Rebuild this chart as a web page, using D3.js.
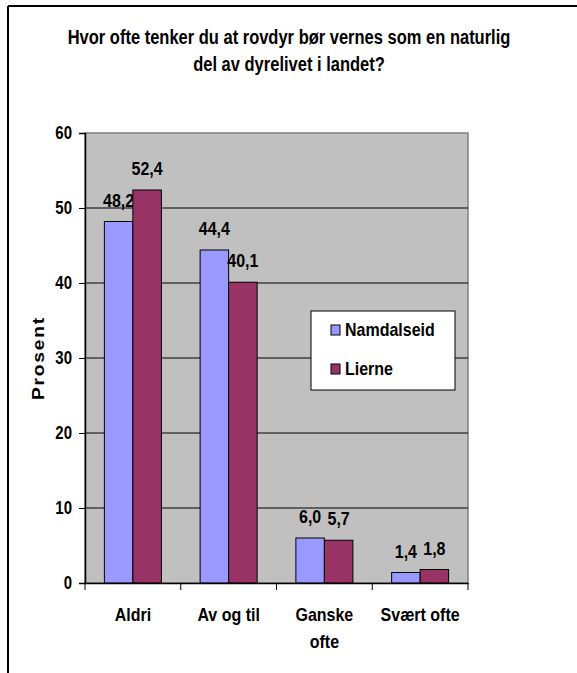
<!DOCTYPE html>
<html>
<head>
<meta charset="utf-8">
<script src="https://cdn.jsdelivr.net/npm/d3@7"></script>
<style>
  html, body { margin: 0; padding: 0; background: #fff; }
  svg { display: block; font-family: Arial, "Liberation Sans", sans-serif; font-weight: bold; }
</style>
</head>
<body>
<div id="chart"></div>
<script>
// data
const categories = ['Aldri', 'Av og til', 'Ganske ofte', 'Svært ofte'];
const seriesNames = ['Namdalseid', 'Lierne'];
const namdalseid = [48.2, 44.4, 6.0, 1.4];
const lierne = [52.4, 40.1, 5.7, 1.8];
const yTicks = [0, 10, 20, 30, 40, 50, 60];
const titleLines = ['Hvor ofte tenker du at rovdyr bør vernes som en naturlig', 'del av dyrelivet i landet?'];

const W = 577, H = 673;
const SY = 1.2; // picture is stretched a bit vertically, text too
const plot = { left: 85, right: 468, top: 133, bottom: 583 };
const colors = ['#9999FF', '#993366'];

const svg = d3.select('#chart').append('svg').attr('width', W).attr('height', H);

// helper: stretched text
function stext(g, x, y, str, size, anchor) {
  return g.append('text')
    .attr('transform', `translate(${x},${y}) scale(1,${SY})`)
    .attr('text-anchor', anchor || 'middle')
    .attr('font-size', size)
    .attr('fill', '#000')
    .text(str);
}

// outer frame (only left and top edges are visible)
svg.append('line').attr('x1', 8).attr('y1', 6).attr('x2', W).attr('y2', 6).attr('stroke', '#000').attr('stroke-width', 2);
svg.append('line').attr('x1', 8).attr('y1', 6).attr('x2', 8).attr('y2', H).attr('stroke', '#000').attr('stroke-width', 2);

// title
titleLines.forEach((t, i) => stext(svg, 289, 44 + i * 27, t, 16.5));

const x = d3.scaleBand().domain(categories).range([plot.left, plot.right]).paddingInner(0).paddingOuter(0);
const y = d3.scaleLinear().domain([0, 60]).range([plot.bottom, plot.top]);
const inner = d3.scaleBand().domain(seriesNames).range([0, x.bandwidth()]).paddingInner(0).paddingOuter(0.68);

// plot area
svg.append('rect')
  .attr('x', plot.left).attr('y', plot.top)
  .attr('width', plot.right - plot.left).attr('height', plot.bottom - plot.top)
  .attr('fill', '#C0C0C0').attr('stroke', '#808080').attr('stroke-width', 1.5);

// gridlines
svg.append('g').selectAll('line').data(yTicks.filter(d => d > 0 && d < 60)).join('line')
  .attr('x1', plot.left).attr('x2', plot.right)
  .attr('y1', d => y(d)).attr('y2', d => y(d))
  .attr('stroke', '#000').attr('stroke-width', 1);

// bars
const series = [namdalseid, lierne];
series.forEach((vals, si) => {
  const g = svg.append('g');
  g.selectAll('rect').data(vals).join('rect')
    .attr('x', (d, i) => x(categories[i]) + inner(seriesNames[si]))
    .attr('y', d => y(d))
    .attr('width', inner.bandwidth())
    .attr('height', d => y(0) - y(d))
    .attr('fill', colors[si]).attr('stroke', '#000').attr('stroke-width', 1);
  vals.forEach((d, i) => {
    stext(g, x(categories[i]) + inner(seriesNames[si]) + inner.bandwidth() / 2, y(d) - 15,
      d3.format('.1f')(d).replace('.', ','), 16);
  });
});

// y axis
const yAxis = svg.append('g').attr('transform', `translate(${plot.left},0)`)
  .call(d3.axisLeft(y).tickValues(yTicks).tickSize(6).tickFormat(''));
yAxis.select('.domain').attr('stroke', '#000').attr('stroke-width', 1.5);
yAxis.selectAll('.tick line').attr('stroke', '#000');
yTicks.forEach(t => stext(svg, 72, y(t) + 6, String(t), 15, 'end'));

// x axis
const xAxis = svg.append('g').attr('transform', `translate(0,${plot.bottom})`)
  .call(d3.axisBottom(x).tickSize(0).tickFormat(''));
xAxis.select('.domain').attr('stroke', '#000').attr('stroke-width', 1.5);
xAxis.selectAll('.tick').remove();
svg.append('g').selectAll('line').data(x.domain().map(c => x(c)).concat([plot.right])).join('line')
  .attr('x1', d => d).attr('x2', d => d)
  .attr('y1', plot.bottom).attr('y2', plot.bottom + 7)
  .attr('stroke', '#000');

const xLabelLines = { 'Ganske ofte': ['Ganske', 'ofte'] };
categories.forEach(c => {
  const lines = xLabelLines[c] || [c];
  lines.forEach((l, i) => stext(svg, x(c) + x.bandwidth() / 2, 621 + i * 27, l, 16));
});

// y axis title
svg.append('text')
  .attr('transform', `translate(44,358) scale(1,${SY}) rotate(-90)`)
  .attr('text-anchor', 'middle')
  .attr('font-size', 16)
  .attr('letter-spacing', 1.5)
  .text('Prosent');

// legend
const lg = svg.append('g');
lg.append('rect').attr('x', 311).attr('y', 311).attr('width', 144).attr('height', 79)
  .attr('fill', '#fff').attr('stroke', '#000').attr('stroke-width', 1);
seriesNames.forEach((n, i) => {
  const cy = 330 + i * 39;
  lg.append('rect').attr('x', 331).attr('y', cy - 5).attr('width', 9).attr('height', 10)
    .attr('fill', colors[i]).attr('stroke', '#000').attr('stroke-width', 1);
  stext(lg, 345, cy + 6, n, 16, 'start');
});
</script>
</body>
</html>
